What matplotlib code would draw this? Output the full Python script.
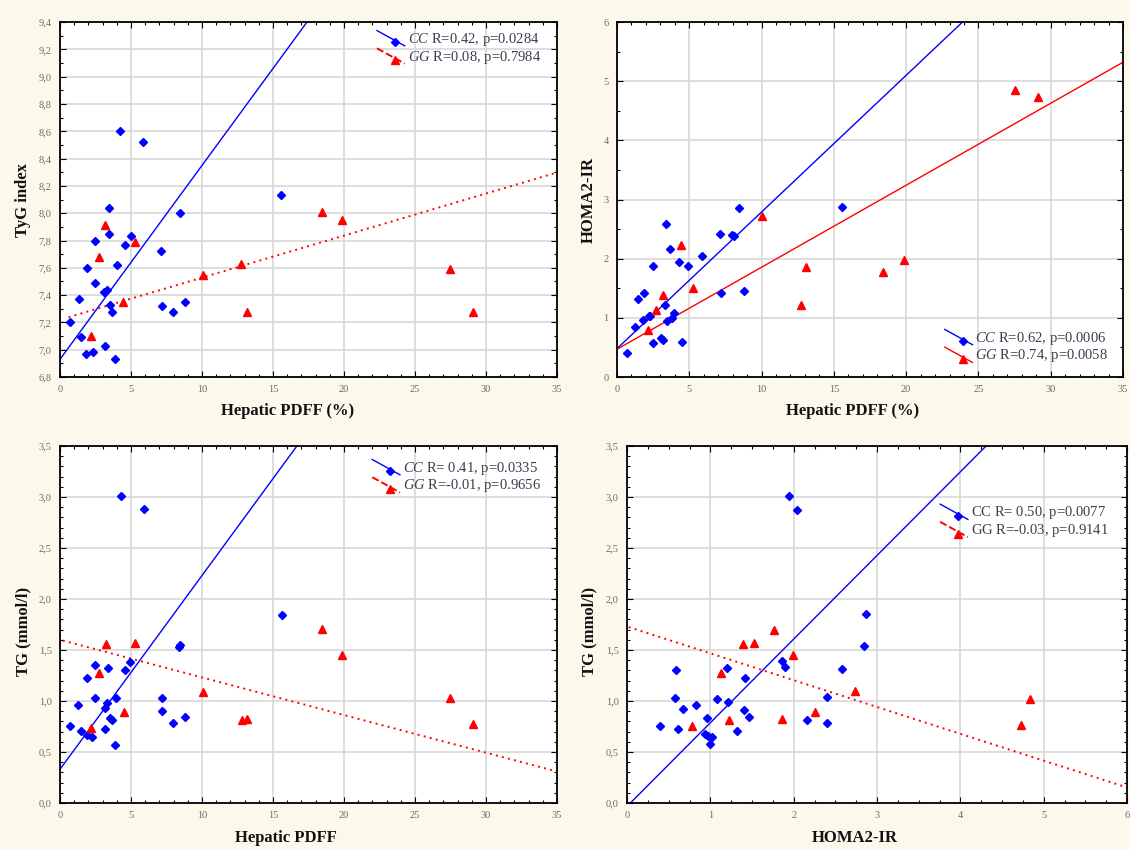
import numpy as np
import matplotlib
matplotlib.use('Agg')
import matplotlib.pyplot as plt
from matplotlib.lines import Line2D
from matplotlib.legend_handler import HandlerBase
from matplotlib.ticker import MultipleLocator, FuncFormatter

plt.rcParams['font.family'] = ['Liberation Serif', 'DejaVu Serif']
plt.rcParams['mathtext.fontset'] = 'custom'
plt.rcParams['mathtext.rm'] = 'Liberation Serif'
plt.rcParams['mathtext.it'] = 'Liberation Serif:italic'

BLUE = '#0000ff'
RED = '#ff0000'
BG = '#fdf8ec'

# --- TyG index vs hepatic PDFF ---
tyg_cc_pdff = [0.70, 1.34, 1.48, 1.92, 1.83, 2.35, 2.49, 2.49, 3.19, 3.10, 3.33, 3.43, 3.43, 3.52,
               3.66, 3.85, 3.99, 4.25, 4.55, 4.98, 5.87, 7.14, 7.18, 7.98, 8.45, 8.83, 15.56]
tyg_cc = [7.20, 7.37, 7.09, 7.60, 6.97, 6.98, 7.80, 7.49, 7.03, 7.42, 7.44, 8.04, 7.85, 7.33,
          7.28, 6.93, 7.62, 8.60, 7.77, 7.83, 8.52, 7.72, 7.32, 7.28, 8.00, 7.35, 8.13]
tyg_gg_pdff = [2.16, 2.77, 3.19, 4.46, 5.28, 10.09, 12.77, 13.15, 18.47, 19.84, 27.49, 29.11]
tyg_gg = [7.10, 7.68, 7.91, 7.35, 7.79, 7.55, 7.63, 7.28, 8.01, 7.95, 7.59, 7.28]

# --- HOMA2-IR vs hepatic PDFF ---
homa_cc_pdff = [0.69, 1.22, 1.47, 1.80, 1.87, 2.21, 2.30, 2.49, 2.47, 3.04, 3.18, 3.32, 3.41, 3.46,
                3.64, 3.78, 3.92, 4.29, 4.47, 4.88, 5.85, 7.10, 7.21, 7.93, 8.06, 8.41, 8.76, 15.58]
homa_cc = [0.41, 0.85, 1.32, 0.96, 1.42, 1.03, 1.04, 0.57, 1.88, 0.66, 0.62, 1.22, 2.59, 0.95,
           2.17, 1.00, 1.08, 1.94, 0.59, 1.88, 2.04, 2.41, 1.42, 2.40, 2.39, 2.86, 1.45, 2.88]
homa_gg_pdff = [2.14, 2.72, 3.20, 4.45, 5.25, 10.02, 12.74, 13.09, 18.37, 19.85, 27.50, 29.09]
homa_gg = [0.79, 1.13, 1.39, 2.24, 1.51, 2.72, 1.22, 1.86, 1.77, 1.98, 4.86, 4.73]

# --- TG vs hepatic PDFF ---
tg_cc_pdff = [0.70, 1.24, 1.48, 1.88, 1.92, 2.25, 2.44, 2.44, 3.15, 3.15, 3.29, 3.40, 3.52, 3.66,
              3.85, 3.94, 4.30, 4.60, 4.95, 5.89, 7.16, 7.18, 7.98, 8.40, 8.48, 8.83, 15.61]
tg_cc = [0.75, 0.96, 0.71, 1.23, 0.67, 0.65, 1.35, 1.03, 0.73, 0.93, 0.98, 1.32, 0.83, 0.81,
         0.57, 1.03, 3.01, 1.30, 1.38, 2.88, 1.03, 0.90, 0.78, 1.53, 1.55, 0.84, 1.84]
tg_gg_pdff = [2.21, 2.75, 3.24, 4.48, 5.31, 10.09, 12.84, 13.15, 18.47, 19.84, 27.50, 29.10]
tg_gg = [0.74, 1.27, 1.56, 0.89, 1.57, 1.09, 0.81, 0.82, 1.71, 1.45, 1.03, 0.77]

# --- TG vs HOMA2-IR ---
tgh_cc_homa = [0.39, 0.57, 0.59, 0.61, 0.67, 0.83, 0.96, 0.94, 0.97, 1.02, 1.00, 1.08, 1.20, 1.21,
               1.32, 1.40, 1.41, 1.46, 1.86, 1.89, 1.94, 2.04, 2.16, 2.40, 2.40, 2.58, 2.87, 2.84]
tgh_cc = [0.75, 1.03, 1.30, 0.73, 0.92, 0.96, 0.83, 0.68, 0.66, 0.65, 0.58, 1.02, 1.32, 0.99,
          0.71, 0.91, 1.23, 0.84, 1.39, 1.33, 3.01, 2.87, 0.81, 1.04, 0.78, 1.31, 1.85, 1.54]
tgh_gg_homa = [0.78, 1.13, 1.22, 1.39, 1.52, 1.76, 1.86, 1.99, 2.26, 2.73, 4.84, 4.73]
tgh_gg = [0.75, 1.27, 0.81, 1.56, 1.57, 1.70, 0.82, 1.45, 0.89, 1.10, 1.02, 0.76]

# regression lines: (intercept, slope, x_start, x_end)
fit_tyg_cc = (6.93, 0.142, 0.0, 35.0)
fit_tyg_gg = (7.22, 0.0308, 0.6, 35.0)
fit_homa_cc = (0.48, 0.231, 0.0, 35.0)
fit_homa_gg = (0.47, 0.1386, 0.0, 35.0)
fit_tg_cc = (0.33, 0.19, 0.0, 35.0)
fit_tg_gg = (1.60, -0.0369, 0.2, 35.0)
fit_tgh_cc = (-0.033, 0.82, 0.04, 6.0)
fit_tgh_gg = (1.73, -0.263, 0.02, 6.0)

legend_tyg = [r'$\mathit{CC}$ R=0.42, p=0.0284', r'$\mathit{GG}$ R=0.08, p=0.7984']
legend_homa = [r'$\mathit{CC}$ R=0.62, p=0.0006', r'$\mathit{GG}$ R=0.74, p=0.0058']
legend_tg = [r'$\mathit{CC}$ R= 0.41, p=0.0335', r'$\mathit{GG}$ R=-0.01, p=0.9656']
legend_tgh = [r'$\mathrm{CC}$ R= 0.50, p=0.0077', r'$\mathrm{GG}$ R=-0.03, p=0.9141']


class SlantHandler(HandlerBase):
    # short slanted segment with the marker on it
    def create_artists(self, legend, orig, xdescent, ydescent, width, height, fontsize, trans):
        x0, x1 = -xdescent, -xdescent + width
        y0, y1 = -ydescent, -ydescent + height
        seg = Line2D([x0, x1], [y1 + 0.2 * height, y0 - 0.3 * height],
                     color=orig.get_color(), lw=orig.get_linewidth(), ls=orig.get_linestyle())
        mk = Line2D([x0 + 0.65 * width], [y0 + 0.05 * height], marker=orig.get_marker(),
                    ms=orig.get_markersize(), color=orig.get_color(), ls='none')
        seg.set_transform(trans)
        mk.set_transform(trans)
        return [seg, mk]


def comma(fmt):
    return FuncFormatter(lambda v, p: (fmt % v).replace('.', ','))


def panel(ax, cx, cy, gx, gy, fcc, fgg, gg_ls, labels, xlim, ylim, xmaj, xmin, ymaj, ymin,
          yfmt, xlabel, ylabel, leg_kw):
    ax.set_facecolor('white')
    ax.set_xlim(*xlim)
    ax.set_ylim(*ylim)
    ax.xaxis.set_major_locator(MultipleLocator(xmaj))
    ax.xaxis.set_minor_locator(MultipleLocator(xmin))
    ax.yaxis.set_major_locator(MultipleLocator(ymaj))
    ax.yaxis.set_minor_locator(MultipleLocator(ymin))
    ax.xaxis.set_major_formatter(comma('%g'))
    ax.yaxis.set_major_formatter(comma(yfmt))
    ax.grid(True, which='major', color='#d8d8d8', lw=1.2)
    ax.set_axisbelow(True)
    ax.tick_params(which='both', direction='in', top=True, right=True, color='black',
                   labelsize=7.5, labelcolor='#6a6a6a', pad=6)
    ax.tick_params(which='major', length=4, width=0.8)
    ax.tick_params(which='minor', length=2.5, width=0.8)
    for s in ax.spines.values():
        s.set_linewidth(1.3)

    for (b, m, xs, xe), col, ls in ((fcc, BLUE, '-'), (fgg, RED, gg_ls)):
        xx = np.array([xs, xe])
        ax.plot(xx, b + m * xx, color=col, lw=1.0 if ls == '-' else 1.4, ls=ls, zorder=2)

    ax.plot(cx, cy, 'D', color=BLUE, ms=4.5, ls='none', zorder=3)
    ax.plot(gx, gy, '^', color=RED, ms=5.5, ls='none', zorder=3)

    h_cc = Line2D([], [], color=BLUE, lw=1.0, ls='-', marker='D', ms=4.5)
    h_gg = Line2D([], [], color=RED, lw=1.4 if gg_ls != '-' else 1.0, ls=gg_ls, marker='^', ms=5.5)
    ax.legend([h_cc, h_gg], labels, handler_map={Line2D: SlantHandler()}, frameon=False,
              fontsize=10.5, handlelength=1.9, handletextpad=0.2, labelspacing=0.05,
              labelcolor='#3c3c50', borderaxespad=0.2, **leg_kw)

    ax.set_xlabel(xlabel, fontsize=12, fontweight='bold', color='#111111')
    ax.set_ylabel(ylabel, fontsize=12, fontweight='bold', color='#111111')


fig = plt.figure(figsize=(11.3, 8.49), dpi=100, facecolor=BG)
ax1 = fig.add_axes([0.0531, 0.5559, 0.4398, 0.4181])
ax2 = fig.add_axes([0.5460, 0.5559, 0.4478, 0.4181])
ax3 = fig.add_axes([0.0531, 0.0542, 0.4398, 0.4205])
ax4 = fig.add_axes([0.5549, 0.0542, 0.4425, 0.4205])

dots = (0, (1, 2.2))

panel(ax1, tyg_cc_pdff, tyg_cc, tyg_gg_pdff, tyg_gg, fit_tyg_cc, fit_tyg_gg, dots, legend_tyg,
      (0, 35), (6.8, 9.4), 5, 1, 0.2, 0.1, '%.1f', 'Hepatic PDFF (%)', 'TyG index',
      dict(loc='upper right', bbox_to_anchor=(0.985, 1.0)))
panel(ax2, homa_cc_pdff, homa_cc, homa_gg_pdff, homa_gg, fit_homa_cc, fit_homa_gg, '-', legend_homa,
      (0, 35), (0, 6), 5, 1, 1, 0.5, '%g', 'Hepatic PDFF (%)', 'HOMA2-IR',
      dict(loc='lower right', bbox_to_anchor=(0.988, 0.011)))
panel(ax3, tg_cc_pdff, tg_cc, tg_gg_pdff, tg_gg, fit_tg_cc, fit_tg_gg, dots, legend_tg,
      (0, 35), (0, 3.5), 5, 1, 0.5, 0.1, '%.1f', 'Hepatic PDFF', 'TG (mmol/l)',
      dict(loc='upper right', bbox_to_anchor=(0.985, 0.986)))
panel(ax4, tgh_cc_homa, tgh_cc, tgh_gg_homa, tgh_gg, fit_tgh_cc, fit_tgh_gg, dots, legend_tgh,
      (0, 6), (0, 3.5), 1, 0.25, 0.5, 0.1, '%.1f', 'HOMA2-IR', 'TG (mmol/l)',
      dict(loc='upper right', bbox_to_anchor=(0.98, 0.861)))

ax1.yaxis.set_label_coords(-0.058, 0.5)
ax2.yaxis.set_label_coords(-0.040, 0.5)
ax3.yaxis.set_label_coords(-0.058, 0.48)
ax4.yaxis.set_label_coords(-0.060, 0.48)
ax1.xaxis.set_label_coords(0.458, -0.073)
ax2.xaxis.set_label_coords(0.466, -0.073)
ax3.xaxis.set_label_coords(0.455, -0.077)
ax4.xaxis.set_label_coords(0.456, -0.077)

fig.savefig('out.png', dpi=100, facecolor=BG)
